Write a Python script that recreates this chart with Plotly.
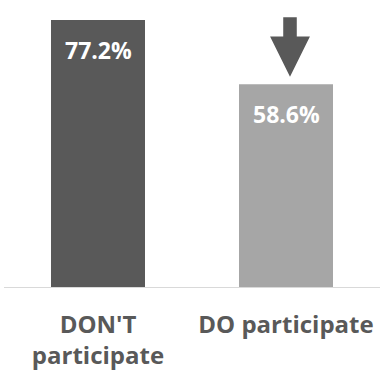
import plotly.graph_objects as go

categories = ["DON'T<br>participate", "DO participate"]
values = [77.2, 58.6]
labels = ["77.2%", "58.6%"]
bar_colors = ["#595959", "#a6a6a6"]

FONT = "Open Sans"

fig = go.Figure()
fig.add_trace(go.Bar(
    x=[0, 1], y=values,
    marker=dict(color=bar_colors, line=dict(width=0)),
    width=0.5,
    hoverinfo="skip",
))

for i, (v, t) in enumerate(zip(values, labels)):
    fig.add_annotation(
        x=i, y=v, text="<b>%s</b>" % t, showarrow=False,
        xref="x", yref="y", yanchor="middle", yshift=-30,
        font=dict(family=FONT, size=23, color="white"),
    )

# down arrow above the second bar
cx = 1 + 4 / 188
hw, sw = 0.106, 0.036
tip = values[1] + 2.2
head_top = tip + 11.6
shaft_top = head_top + 5.6
path = (f"M {cx - sw} {shaft_top} L {cx + sw} {shaft_top} L {cx + sw} {head_top} "
        f"L {cx + hw} {head_top} L {cx} {tip} L {cx - hw} {head_top} "
        f"L {cx - sw} {head_top} Z")
fig.add_shape(type="path", path=path, xref="x", yref="y",
              fillcolor="#595959", line=dict(width=0))

fig.update_layout(
    width=383, height=381,
    margin=dict(l=4, r=3, t=10, b=94),
    paper_bgcolor="white", plot_bgcolor="white",
    showlegend=False,
    xaxis=dict(
        range=[-0.5, 1.5], tickvals=[0, 1], ticktext=["<b>%s</b>" % c for c in categories],
        showline=True, linecolor="#d9d9d9", linewidth=1,
        showgrid=False, zeroline=False, ticks="",
        ticklabelstandoff=16,
        tickfont=dict(family=FONT, size=24, color="#595959"),
        fixedrange=True,
    ),
    yaxis=dict(
        range=[0, 277 / (267 / 77.2)], visible=False, showgrid=False,
        zeroline=False, fixedrange=True,
    ),
)

fig.write_html("out.html", config={"displayModeBar": False})
